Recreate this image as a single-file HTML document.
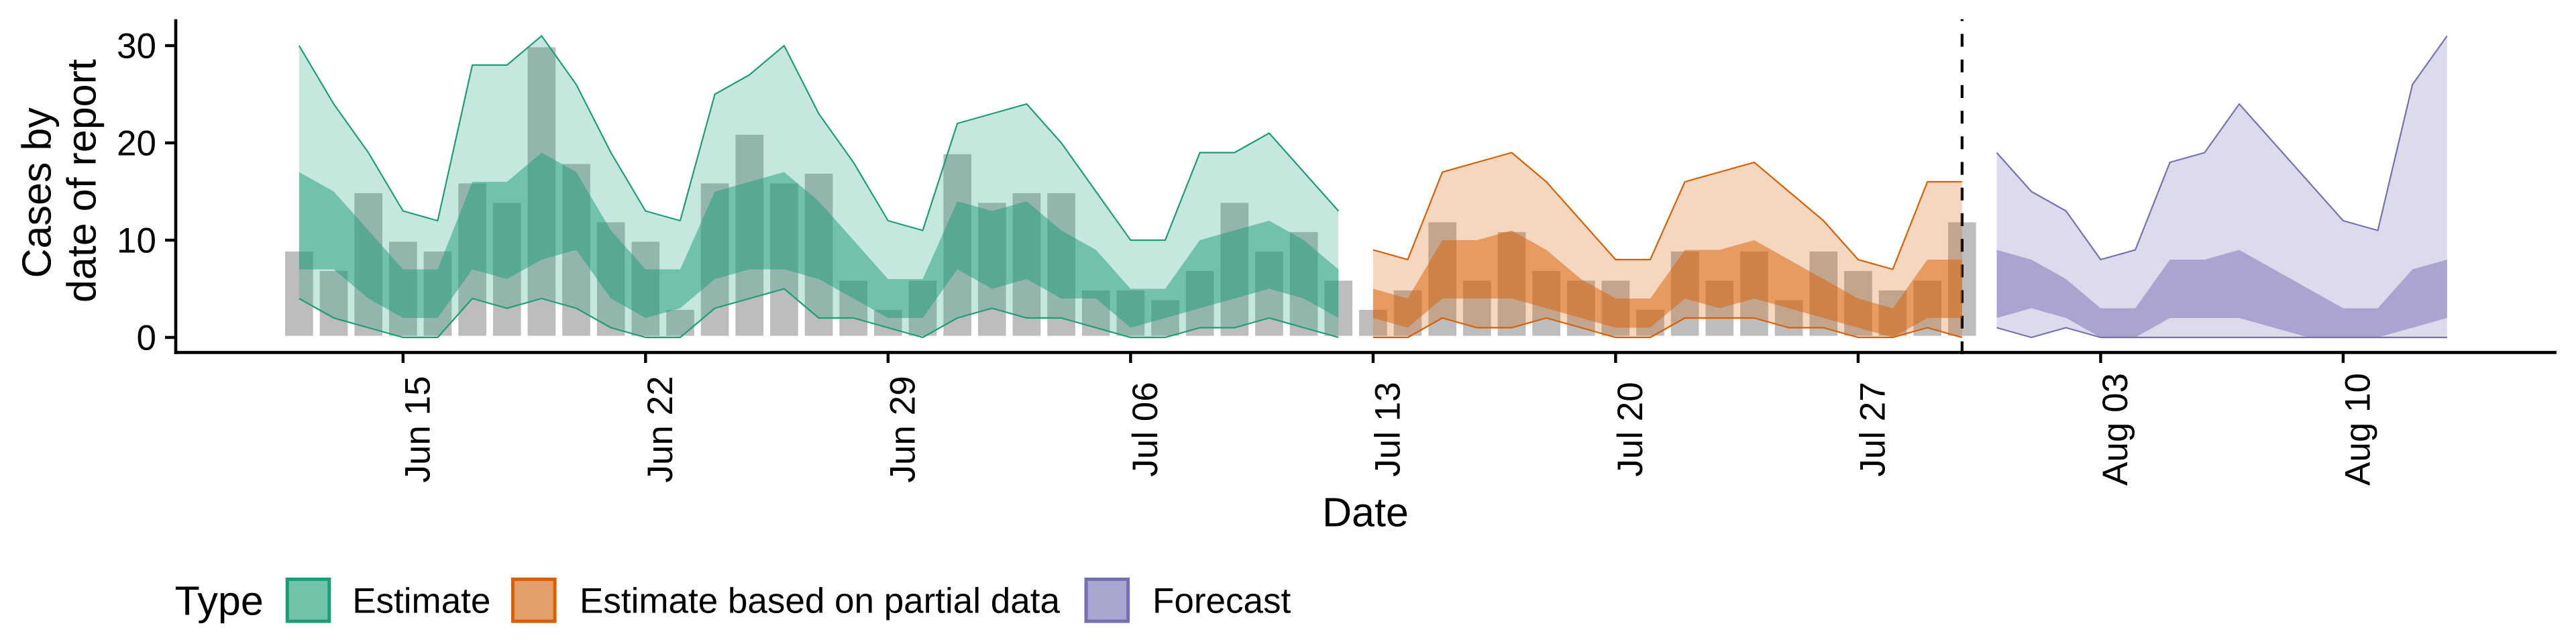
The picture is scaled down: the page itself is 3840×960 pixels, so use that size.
<!DOCTYPE html>
<html lang="en">
<head>
<meta charset="utf-8">
<title>Cases by date of report</title>
<style>
html,body{margin:0;padding:0;background:#fff;}
svg{display:block;}
text{font-family:"Liberation Sans",Arial,sans-serif;fill:#000;text-rendering:geometricPrecision;}
</style>
</head>
<body>
<svg id="chart" xmlns="http://www.w3.org/2000/svg" width="3840" height="960" viewBox="0 0 3840 960">
  <rect x="0" y="0" width="3840" height="960" fill="#ffffff"/>
  <g id="bars"></g>
  <line id="vline" stroke="#000" stroke-width="4.2" stroke-dasharray="19.1 19.1"/>
  <g id="ribbons"></g>
  <g id="axes"></g>
  <text font-size="61" transform="translate(75.5,414.5) rotate(-90)">Cases by</text>
  <text font-size="61" transform="translate(142.7,451) rotate(-90)">date of report</text>
  <text font-size="61" x="1971" y="784.3">Date</text>
  <g>
    <text font-size="61" x="260.5" y="916.7">Type</text>
    <rect x="428.2" y="863.5" width="62.6" height="62.6" fill="#70c2a9" stroke="#1b9e77" stroke-width="5"/>
    <text font-size="53" x="525.2" y="913.5">Estimate</text>
    <rect x="764.5" y="863.5" width="62.6" height="62.6" fill="#e59f6a" stroke="#d95f02" stroke-width="5"/>
    <text font-size="53" x="864" y="913.5">Estimate based on partial data</text>
    <rect x="1619" y="863.5" width="62.6" height="62.6" fill="#a8a5cf" stroke="#7570b3" stroke-width="5"/>
    <text font-size="53" x="1718" y="913.5">Forecast</text>
  </g>
</svg>
<script>
// ---- Data ----
const barDates = ["06-12","06-13","06-14","06-15","06-16","06-17","06-18","06-19","06-20","06-21","06-22","06-23","06-24","06-25","06-26","06-27","06-28","06-29","06-30","07-01","07-02","07-03","07-04","07-05","07-06","07-07","07-08","07-09","07-10","07-11","07-12","07-13","07-14","07-15","07-16","07-17","07-18","07-19","07-20","07-21","07-22","07-23","07-24","07-25","07-26","07-27","07-28","07-29","07-30"];
const barValues = [9,7,15,10,9,16,14,30,18,12,10,3,16,21,16,17,6,3,6,19,14,15,15,5,5,4,7,14,9,11,6,3,5,12,6,11,7,6,6,3,9,6,9,4,9,7,5,6,12];

const estimateDates = ["06-12","06-13","06-14","06-15","06-16","06-17","06-18","06-19","06-20","06-21","06-22","06-23","06-24","06-25","06-26","06-27","06-28","06-29","06-30","07-01","07-02","07-03","07-04","07-05","07-06","07-07","07-08","07-09","07-10","07-11","07-12"];
const estimateUpper90 = [30,24,19,13,12,28,28,31,26,19,13,12,25,27,30,23,18,12,11,22,23,24,20,15,10,10,19,19,21,17,13];
const estimateLower90 = [4,2,1,0,0,4,3,4,3,1,0,0,3,4,5,2,2,1,0,2,3,2,2,1,0,0,1,1,2,1,0];
const estimateUpper50 = [17,15,11,7,7,16,16,19,17,11,7,7,15,16,17,14,10,6,6,14,13,14,11,9,5,5,10,11,12,10,7];
const estimateLower50 = [7,7,4,2,2,7,6,8,9,4,2,3,6,7,7,6,4,2,2,7,5,6,4,4,1,2,3,4,5,4,2];

const partialDates = ["07-13","07-14","07-15","07-16","07-17","07-18","07-19","07-20","07-21","07-22","07-23","07-24","07-25","07-26","07-27","07-28","07-29","07-30"];
const partialUpper90 = [9,8,17,18,19,16,12,8,8,16,17,18,15,12,8,7,16,16];
const partialLower90 = [0,0,2,1,1,2,1,0,0,2,2,2,1,1,0,0,1,0];
const partialUpper50 = [5,4,10,10,11,9,6,4,4,9,9,10,8,6,4,3,8,8];
const partialLower50 = [2,1,4,4,4,3,2,1,1,4,3,4,3,2,1,0,2,2];

const forecastDates = ["07-31","08-01","08-02","08-03","08-04","08-05","08-06","08-07","08-08","08-09","08-10","08-11","08-12","08-13"];
const forecastUpper90 = [19,15,13,8,9,18,19,24,20,16,12,11,26,31];
const forecastLower90 = [1,0,1,0,0,0,0,0,0,0,0,0,0,0];
const forecastUpper50 = [9,8,6,3,3,8,8,9,7,5,3,3,7,8];
const forecastLower50 = [2,3,2,0,0,2,2,2,1,0,0,0,1,2];

const xTickDates = ["06-15","06-22","06-29","07-06","07-13","07-20","07-27","08-03","08-10"];
const xTickLabels = ["Jun 15","Jun 22","Jun 29","Jul 06","Jul 13","Jul 20","Jul 27","Aug 03","Aug 10"];
const yTickValues = [0,10,20,30];
const yTickLabels = ["0","10","20","30"];
const estimateDate = "07-30";

// ---- Axis functions ----
const SVGNS = "http://www.w3.org/2000/svg";
function dayNumber(md) {
  const parts = md.split("-");
  return Date.UTC(2020, Number(parts[0]) - 1, Number(parts[1])) / 86400000;
}
const xOriginDay = dayNumber("06-15");
function xScale(md) { return 600.8 + 51.645 * (dayNumber(md) - xOriginDay); }
function yScale(v) { return 503 - 14.5 * v; }

function make(tag, parent, attrs) {
  const el = document.createElementNS(SVGNS, tag);
  for (const k in attrs) el.setAttribute(k, attrs[k]);
  parent.appendChild(el);
  return el;
}

// ---- Bars ----
const barsGroup = document.getElementById("bars");
const barWidth = 51.645 * 0.9;
barDates.forEach(function (d, i) {
  const top = yScale(barValues[i]);
  const r = make("rect", barsGroup, {
    x: xScale(d) - barWidth / 2, y: top, width: barWidth, height: yScale(0) - top,
    fill: "#bdbdbd", stroke: "#ffffff", "stroke-width": 4.8
  });
  
  
});

// ---- Estimate date line ----
const vline = document.getElementById("vline");
vline.setAttribute("x1", xScale(estimateDate));
vline.setAttribute("x2", xScale(estimateDate));
vline.setAttribute("y1", 528);
vline.setAttribute("y2", 28.6);

// ---- Ribbons and bounding lines ----
function bandPoints(dates, upper, lower) {
  const pts = [];
  dates.forEach(function (d, i) { pts.push(xScale(d) + "," + yScale(upper[i])); });
  for (let i = dates.length - 1; i >= 0; i--) pts.push(xScale(dates[i]) + "," + yScale(lower[i]));
  return pts.join(" ");
}
function linePoints(dates, vals) {
  return dates.map(function (d, i) { return xScale(d) + "," + yScale(vals[i]); }).join(" ");
}
function drawSeries(key, color, dates, u90, l90, u50, l50) {
  const host = document.getElementById("ribbons");
  const g = make("g", host, {});
  
  

  const outer = make("polygon", g, { points: bandPoints(dates, u90, l90), fill: color, "fill-opacity": 0.25 });
  
  

  const inner = make("polygon", g, { points: bandPoints(dates, u50, l50), fill: color, "fill-opacity": 0.5 });
  
  

  const upLine = make("polyline", g, { points: linePoints(dates, u90), fill: "none", stroke: color, "stroke-width": 2.2, "stroke-linejoin": "round" });
  
  

  const lowLine = make("polyline", g, { points: linePoints(dates, l90), fill: "none", stroke: color, "stroke-width": 2.2, "stroke-linejoin": "round" });
  
  
}
drawSeries("estimate", "#1b9e77", estimateDates, estimateUpper90, estimateLower90, estimateUpper50, estimateLower50);
drawSeries("partial", "#d95f02", partialDates, partialUpper90, partialLower90, partialUpper50, partialLower50);
drawSeries("forecast", "#7570b3", forecastDates, forecastUpper90, forecastLower90, forecastUpper50, forecastLower50);

// ---- Axes ----
const axes = document.getElementById("axes");
const yAxisLine = make("line", axes, { x1: 262, x2: 262, y1: 28.6, y2: 527.7, stroke: "#000", "stroke-width": 4.6 });



const xAxisLine = make("line", axes, { x1: 259.7, x2: 3811, y1: 525.4, y2: 525.4, stroke: "#000", "stroke-width": 4.6 });



yTickValues.forEach(function (v, i) {
  const y = yScale(v);
  const tick = make("line", axes, { x1: 246, x2: 262, y1: y, y2: y, stroke: "#000", "stroke-width": 4.4 });
  
  

  const label = make("text", axes, { x: 233, y: y + 18.7, "font-size": 53, "text-anchor": "end" });
  label.textContent = yTickLabels[i];
  
  
});

xTickDates.forEach(function (d, i) {
  const x = xScale(d);
  const tick = make("line", axes, { x1: x, x2: x, y1: 525.4, y2: 541, stroke: "#000", "stroke-width": 4.4 });
  
  

  const label = make("text", axes, { "font-size": 53, "text-anchor": "middle", transform: "translate(" + (x + 39.5) + ",640) rotate(-90)" });
  label.textContent = xTickLabels[i];
  
  
});
</script>
</body>
</html>
